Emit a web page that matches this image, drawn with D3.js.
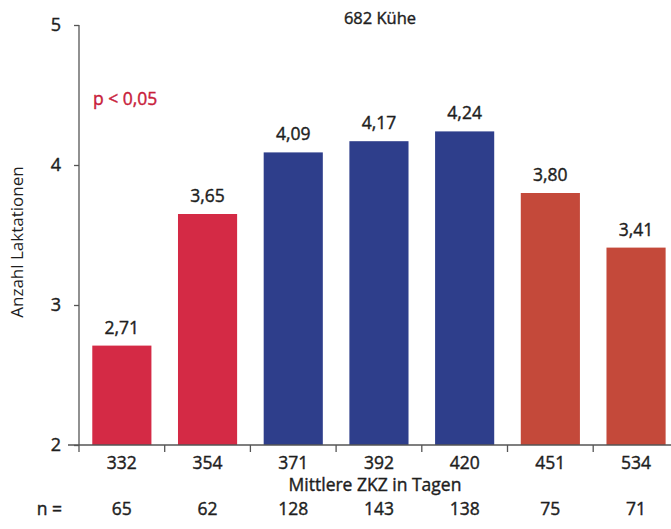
<!DOCTYPE html>
<html><head><meta charset="utf-8">
<script src="https://cdn.jsdelivr.net/npm/d3@7"></script>
<style>body{margin:0;background:#fff}svg{display:block}text{font-family:"Open Sans","Noto Sans",sans-serif}
.m{stroke:currentColor;stroke-width:0.4px}</style>
</head><body><svg id="c" width="671" height="529"></svg>
<script>
const categories = ["332","354","371","392","420","451","534"];
const values = [2.71,3.65,4.09,4.17,4.24,3.80,3.41];
const counts = [65,62,128,143,138,75,71];
const groups = ["a","a","b","b","b","c","c"];
const yTicks = [2,3,4,5];
const colorMap = {a:"#d42a45", b:"#2e3e8b", c:"#c4493a"};

const svg = d3.select("#c");
const x = d3.scaleBand().domain(categories).range([79, 79+7*85.7]).paddingInner(0.31).paddingOuter(0.155);
const y = d3.scaleLinear().domain([2,5]).range([445,25]);
const ink = "#1e1e1e";

// bars
svg.selectAll("rect.bar").data(values).enter().append("rect")
  .attr("x",(d,i)=>x(categories[i])).attr("y",d=>y(d))
  .attr("width",x.bandwidth()).attr("height",d=>y(2)-y(d))
  .attr("fill",(d,i)=>colorMap[groups[i]]);

// value labels
svg.selectAll("text.val").data(values).enter().append("text").attr("class","m")
  .attr("x",(d,i)=>x(categories[i])+x.bandwidth()/2).attr("y",d=>y(d)-12)
  .attr("text-anchor","middle").attr("font-size",17.5).attr("fill",ink).style("color",ink)
  .text(d=>d.toFixed(2).replace(".",","));

// y axis
const yAxis = svg.append("g").attr("transform","translate(79,0)")
  .call(d3.axisLeft(y).tickValues(yTicks).tickSize(5).tickPadding(13).tickFormat(d=>d));
yAxis.select(".domain").attr("stroke","#555").attr("stroke-width",1.3).attr("d","M0,25V445");
yAxis.selectAll(".tick line").attr("stroke","#555").attr("stroke-width",1.3);
yAxis.selectAll(".tick text").attr("class","m").attr("font-size",18).attr("fill",ink).style("color",ink).attr("font-family","Open Sans, sans-serif");

// x axis
const xb = d3.scaleBand().domain(categories).range([79,79+7*85.7]);
const xAxis = svg.append("g").attr("transform","translate(0,445)")
  .call(d3.axisBottom(xb).tickSize(0).tickPadding(12));
xAxis.select(".domain").attr("stroke","#555").attr("stroke-width",1.3).attr("d","M68,0H671");
xAxis.selectAll(".tick text").attr("class","m").attr("font-size",17.5).attr("fill",ink).style("color",ink).attr("font-family","Open Sans, sans-serif");
// band boundary ticks
svg.append("g").selectAll("line").data(categories).enter().append("line")
  .attr("x1",d=>xb(d)).attr("x2",d=>xb(d)).attr("y1",445).attr("y2",452)
  .attr("stroke","#555").attr("stroke-width",1.3);

// axis titles
svg.append("text").attr("class","m").attr("x",375).attr("y",491).attr("text-anchor","middle")
  .attr("font-size",17.5).attr("fill",ink).style("color",ink).text("Mittlere ZKZ in Tagen");
svg.append("text").attr("transform","translate(23,242) rotate(-90)").attr("text-anchor","middle")
  .attr("font-size",17).attr("fill",ink).attr("font-family","Liberation Sans, Arial, sans-serif").text("Anzahl Laktationen");

// n row
svg.append("text").attr("class","m").attr("x",62).attr("y",515).attr("text-anchor","end")
  .attr("font-size",17.5).attr("fill",ink).style("color",ink).text("n =");
svg.selectAll("text.n").data(counts).enter().append("text").attr("class","m")
  .attr("x",(d,i)=>xb(categories[i])+xb.bandwidth()/2).attr("y",515)
  .attr("text-anchor","middle").attr("font-size",17.5).attr("fill",ink).style("color",ink).text(d=>d);

// title and significance note
svg.append("text").attr("class","m").attr("x",380).attr("y",24).attr("text-anchor","middle")
  .attr("font-size",16.5).attr("fill",ink).style("color",ink).text("682 Kühe");
svg.append("text").attr("class","m").attr("x",93).attr("y",105)
  .attr("font-size",17.5).attr("fill","#c8203a").style("color","#c8203a").text("p < 0,05");
</script></body></html>
